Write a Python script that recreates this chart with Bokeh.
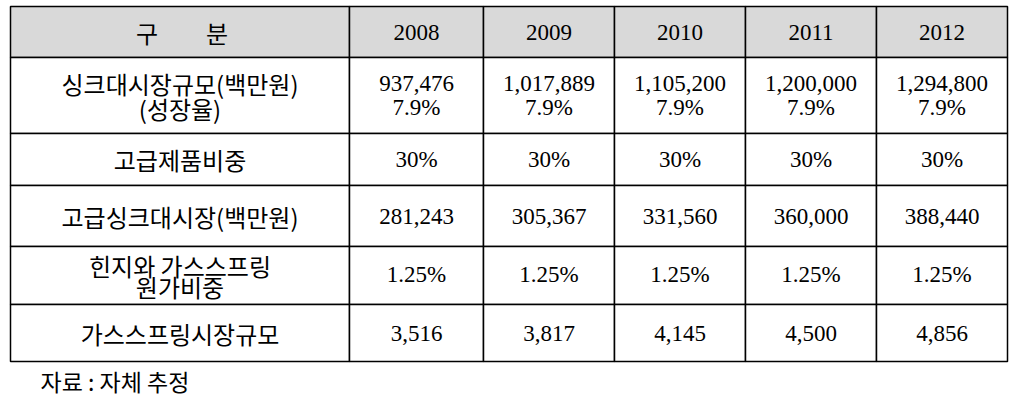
from bokeh.plotting import figure
from bokeh.models import Range1d
from bokeh.core.properties import value
from bokeh.embed import file_html
from bokeh.resources import INLINE

# ---- data ----
header_label = "구\u3000\u3000분"
years = ["2008", "2009", "2010", "2011", "2012"]
market_size = [937476, 1017889, 1105200, 1200000, 1294800]      # 싱크대시장규모(백만원)
growth_rate = [7.9, 7.9, 7.9, 7.9, 7.9]                          # 성장율 (%)
premium_share = [30, 30, 30, 30, 30]                             # 고급제품비중 (%)
premium_market = [281243, 305367, 331560, 360000, 388440]        # 고급싱크대시장(백만원)
hinge_cost_share = [1.25, 1.25, 1.25, 1.25, 1.25]                # 힌지와 가스스프링 원가비중 (%)
gas_spring_market = [3516, 3817, 4145, 4500, 4856]               # 가스스프링시장규모
row_labels = [
    ["싱크대시장규모(백만원)", "(성장율)"],
    ["고급제품비중"],
    ["고급싱크대시장(백만원)"],
    ["힌지와 가스스프링", "원가비중"],
    ["가스스프링시장규모"],
]
source_note = "자료 : 자체 추정"

# ---- layout (page pixel coordinates) ----
col_edges = [10, 349, 483, 614, 745, 876, 1007]
row_edges = [6, 57, 133, 185, 246, 304, 361]

W, H = 1018, 403
p = figure(width=W, height=H, output_backend="svg", toolbar_location=None,
           x_range=Range1d(0, W), y_range=Range1d(H, 0),
           min_border=0, outline_line_color=None)
p.axis.visible = False
p.grid.visible = False
p.background_fill_color = "white"
p.border_fill_color = "white"

# cells
L, R, T, B, F = [], [], [], [], []
for r in range(len(row_edges) - 1):
    for c in range(len(col_edges) - 1):
        L.append(col_edges[c]); R.append(col_edges[c + 1])
        T.append(row_edges[r]); B.append(row_edges[r + 1])
        F.append("#d9d9d9" if r == 0 else "white")
p.quad(left=L, right=R, top=T, bottom=B, fill_color=F,
       line_color="black", line_width=1.5)

KFONT = value("Noto Sans CJK KR")
NFONT = value("Liberation Serif")

def cx(c):
    return (col_edges[c] + col_edges[c + 1]) / 2

def cy(r):
    return (row_edges[r] + row_edges[r + 1]) / 2

kx, ky, kt = [], [], []
nx, ny, nt = [], [], []

# header
kx.append(cx(0) + 2); ky.append(cy(0)); kt.append(header_label)
for i, yr in enumerate(years):
    nx.append(cx(i + 1)); ny.append(cy(0)); nt.append(yr)

# row labels
line_gap = {0: 25, 3: 21}
for r, lines in enumerate(row_labels, start=1):
    if len(lines) == 1:
        kx.append(cx(0)); ky.append(cy(r)); kt.append(lines[0])
    else:
        g = line_gap[r - 1]
        for j, s in enumerate(lines):
            kx.append(cx(0)); ky.append(cy(r) - g / 2 + j * g); kt.append(s)

# values
for i in range(len(years)):
    x = cx(i + 1)
    nx += [x, x]; ny += [cy(1) - 12, cy(1) + 12]
    nt += [f"{market_size[i]:,}", f"{growth_rate[i]:.1f}%"]
    nx.append(x); ny.append(cy(2)); nt.append(f"{premium_share[i]}%")
    nx.append(x); ny.append(cy(3)); nt.append(f"{premium_market[i]:,}")
    nx.append(x); ny.append(cy(4) - 1); nt.append(f"{hinge_cost_share[i]:.2f}%")
    nx.append(x); ny.append(cy(5)); nt.append(f"{gas_spring_market[i]:,}")

p.text(x=kx, y=ky, text=kt, text_font=KFONT, text_font_size="24px",
       text_align="center", text_baseline="middle", text_color="black")
p.text(x=nx, y=ny, text=nt, text_font=NFONT, text_font_size="23px",
       text_align="center", text_baseline="middle", text_color="black")

# source note
p.text(x=[40], y=[380], text=[source_note], text_font=KFONT, text_font_size="23px",
       text_align="left", text_baseline="middle", text_color="black")

open("out.html", "w").write(file_html(p, INLINE))
